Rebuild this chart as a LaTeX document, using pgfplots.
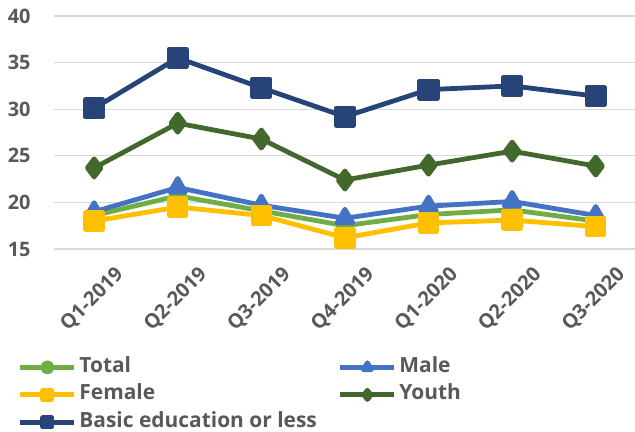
\documentclass[border=0pt]{standalone}
\usepackage{pgfplots}
\pgfplotsset{compat=1.18}
\usepackage{fontspec}
\setmainfont{Open Sans}
\definecolor{txt}{HTML}{595959}
\definecolor{cTotal}{HTML}{70AD47}
\definecolor{cMale}{HTML}{4472C4}
\definecolor{cFemale}{HTML}{FFC000}
\definecolor{cYouth}{HTML}{43682B}
\definecolor{cBasic}{HTML}{264478}
\definecolor{gridc}{HTML}{D9D9D9}
\begin{document}
\begin{tikzpicture}
\useasboundingbox (-54bp,16bp) rectangle (581bp,-416bp);
\begin{axis}[
  at={(0,0)}, anchor=north west,
  scale only axis, width=581bp, height=233bp,
  xmin=-0.48, xmax=6.47, ymin=15, ymax=40,
  ytick={15,20,...,40},
  xtick={0,...,6},
  xticklabels={Q1-2019,Q2-2019,Q3-2019,Q4-2019,Q1-2020,Q2-2020,Q3-2020},
  axis line style={draw=none}, tick style={draw=none},
  ymajorgrids, grid style={gridc, line width=1.3bp},
  /pgf/number format/assume math mode=true,
  tick label style={font=\fontsize{20}{23}\selectfont\bfseries, text=txt},
  x tick label style={rotate=45, anchor=north east, inner sep=0pt, yshift=-23bp, xshift=5bp},
  y tick label style={inner sep=0pt, xshift=-21bp},
  legend columns=2,
  legend style={draw=none, at={(0,0)}, anchor=north west, xshift=-38.5bp, yshift=-102.25bp,
    inner sep=0pt,
    font=\fontsize{21}{24}\selectfont\bfseries, text=txt,
    row sep=0bp, column sep=0bp,
    nodes={text height=14.5bp, text depth=4.5bp, inner ysep=4.25bp, anchor=west, inner xsep=2.5bp}},
  legend image code/.code={%
    \draw[mark repeat=2, mark phase=2, line width=5bp, mark size=4.5bp]
      plot coordinates {(0bp,0bp) (27bp,0bp) (54bp,0bp)};},
  line width=4.8bp,
  every axis plot/.append style={line join=round}
]
\addplot[cTotal, mark=*, mark size=6.5bp] coordinates {(0,18.6) (1,20.7) (2,19.1) (3,17.5) (4,18.7) (5,19.2) (6,18.0)};
\addlegendentry{\makebox[256bp][l]{Total}}
\addplot[cMale, mark=triangle*, mark size=9bp] coordinates {(0,19.0) (1,21.6) (2,19.7) (3,18.3) (4,19.6) (5,20.1) (6,18.6)};
\addlegendentry{Male}
\addplot[cFemale, mark=square*, mark size=8.3bp] coordinates {(0,18.0) (1,19.5) (2,18.6) (3,16.2) (4,17.8) (5,18.1) (6,17.4)};
\addlegendentry{\makebox[256bp][l]{Female}}
\addplot[cYouth, mark=diamond*, mark size=9bp] coordinates {(0,23.7) (1,28.5) (2,26.8) (3,22.4) (4,24.0) (5,25.5) (6,23.9)};
\addlegendentry{Youth}
\addplot[cBasic, mark=square*, mark size=8.7bp] coordinates {(0,30.1) (1,35.5) (2,32.3) (3,29.2) (4,32.1) (5,32.5) (6,31.4)};
\addlegendentry{Basic education or less}
\end{axis}
\end{tikzpicture}
\end{document}
